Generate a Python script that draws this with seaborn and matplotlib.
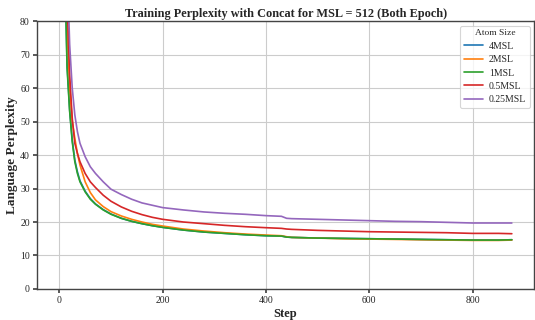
import matplotlib
matplotlib.use("Agg")
import matplotlib.pyplot as plt
import seaborn as sns
import pandas as pd

# Training steps at which perplexity is recorded
steps = [5, 10, 15, 20, 25, 30, 35, 40, 50, 60, 70, 85, 100, 120, 140, 160, 180,
         200, 240, 280, 320, 360, 400, 430, 440, 450, 500, 550, 600, 650, 700,
         750, 800, 850, 876]

atom_sizes = ["4MSL", "2MSL", "1MSL", "0.5MSL", "0.25MSL"]

ppl_4msl = [290, 102, 67, 53.5, 44.5, 38.5, 35, 32.3, 29.2, 27, 25.4, 23.7,
            22.4, 21.1, 20.2, 19.5, 18.9, 18.4, 17.6, 17.0, 16.6, 16.2, 15.9,
            15.8, 15.5, 15.4, 15.2, 15.1, 15.0, 14.9, 14.8, 14.7, 14.6, 14.6,
            14.7]
ppl_2msl = [350, 130, 78, 60, 50, 45, 40.5, 37, 32, 28.8, 26.6, 24.6, 23.1,
            21.8, 20.8, 20.0, 19.3, 18.8, 17.9, 17.3, 16.8, 16.4, 16.1, 15.9,
            15.6, 15.4, 15.2, 15.0, 14.9, 14.8, 14.7, 14.6, 14.5, 14.5, 14.6]
ppl_1msl = [300, 100, 66, 53, 44, 38, 34.5, 32, 29, 26.8, 25.3, 23.6, 22.3,
            21.1, 20.2, 19.5, 18.9, 18.4, 17.6, 17.0, 16.6, 16.2, 15.9, 15.8,
            15.5, 15.4, 15.2, 15.1, 15.0, 14.9, 14.8, 14.7, 14.6, 14.6, 14.7]
ppl_05msl = [450, 180, 86, 64, 51, 43.5, 40.5, 38, 34.5, 32, 30.3, 28, 26.2,
             24.5, 23.2, 22.2, 21.4, 20.8, 20.0, 19.5, 19.0, 18.6, 18.3, 18.1,
             17.9, 17.8, 17.5, 17.3, 17.1, 17.0, 16.9, 16.8, 16.6, 16.6, 16.5]
ppl_025msl = [500, 200, 98, 73, 60, 52, 47, 43.5, 39.5, 36.5, 34.5, 32, 29.8,
              28.2, 26.8, 25.7, 25.0, 24.3, 23.6, 23.0, 22.6, 22.3, 21.9, 21.7,
              21.1, 21.0, 20.8, 20.6, 20.4, 20.2, 20.1, 19.9, 19.7, 19.7, 19.7]

series = [ppl_4msl, ppl_2msl, ppl_1msl, ppl_05msl, ppl_025msl]
df = pd.concat(
    [pd.DataFrame({"Step": steps, "Perplexity": vals, "Atom Size": name})
     for name, vals in zip(atom_sizes, series)],
    ignore_index=True,
)

sns.set_theme(style="whitegrid")
plt.rcParams["font.family"] = ["Liberation Serif", "DejaVu Serif"]
plt.rcParams["axes.edgecolor"] = "#444444"
plt.rcParams["grid.color"] = "#cccccc"

fig, ax = plt.subplots(figsize=(5.35, 3.2), dpi=100)
fig.subplots_adjust(left=0.0686, right=0.999, bottom=0.097, top=0.934)

sns.lineplot(data=df, x="Step", y="Perplexity", hue="Atom Size",
             hue_order=atom_sizes, palette="tab10", linewidth=1.2, ax=ax)

ax.set_xlim(-43.8, 919.8)
ax.set_ylim(0, 80)
ax.set_xticks([0, 200, 400, 600, 800])
ax.set_yticks(range(0, 81, 10))
ax.tick_params(axis="both", labelsize=7, pad=2, length=3, color="#444444",
               bottom=True, left=True)
ax.grid(True, linewidth=0.8)
for sp in ax.spines.values():
    sp.set_linewidth(1.0)

ax.set_title("Training Perplexity with Concat for MSL = 512 (Both Epoch)",
             fontsize=8.8, fontweight="bold", pad=3)
ax.set_xlabel("Step", fontsize=9, fontweight="bold", labelpad=2)
ax.set_ylabel("Language Perplexity", fontsize=9.5, fontweight="bold",
              labelpad=1)

leg = ax.legend(title="Atom Size", loc="upper right", fontsize=7,
                title_fontsize=6.8, frameon=True, borderaxespad=0.5,
                handlelength=2.0, handletextpad=0.6, borderpad=0.35,
                labelspacing=0.45)
leg.get_frame().set_edgecolor("#cccccc")
leg.get_frame().set_linewidth(0.8)

fig.savefig("out.png", dpi=100)
